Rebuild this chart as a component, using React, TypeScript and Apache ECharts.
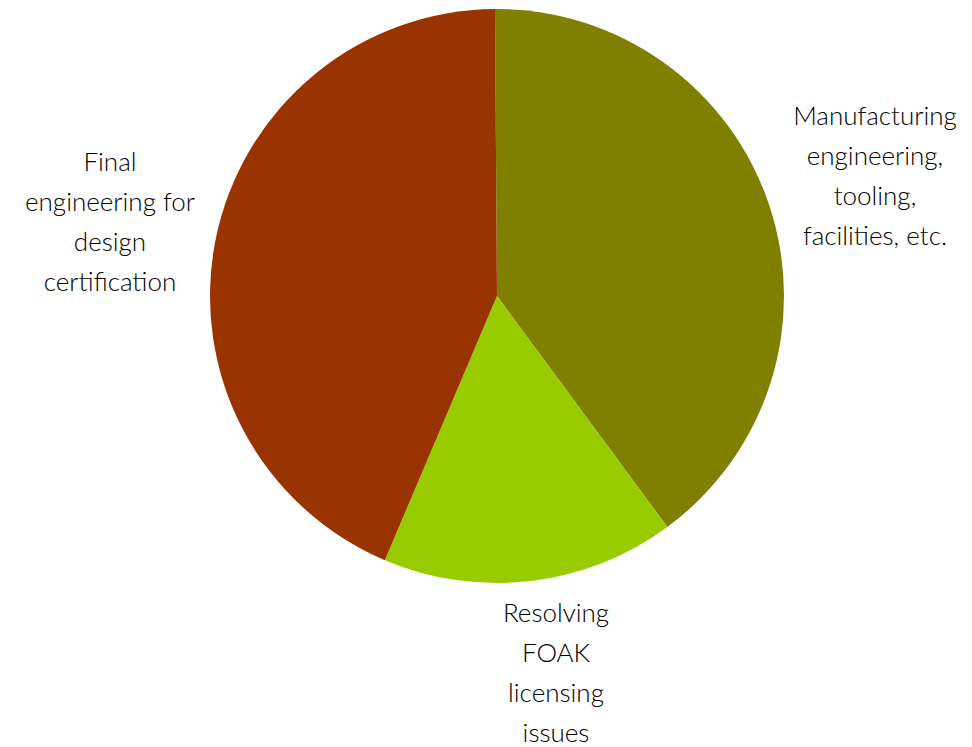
import React, { useEffect, useRef } from "react";
import * as echarts from "echarts";

const categories = [
  "Manufacturing\nengineering,\ntooling,\nfacilities, etc.",
  "Resolving\nFOAK\nlicensing\nissues",
  "Final\nengineering for\ndesign\ncertification",
];
const values = [40, 16.5, 43.5];
const colors = ["#808000", "#99CC00", "#993300"];

export default function App() {
  const ref = useRef<HTMLDivElement>(null);
  useEffect(() => {
    if (!ref.current) return;
    const chart = echarts.init(ref.current, null, { renderer: "svg" });
    const labelPos = [
      { x: 875, y: 175 },
      { x: 556, y: 672 },
      { x: 110, y: 221 },
    ];
    chart.setOption({
      animation: false,
      backgroundColor: "#ffffff",
      series: [
        {
          type: "pie",
          center: [497, 296],
          radius: [0, 287],
          startAngle: 90.4,
          clockwise: true,
          data: categories.map((name, i) => ({
            name,
            value: values[i],
            itemStyle: { color: colors[i] },
          })),
          label: {
            show: true,
            position: "outside",
            formatter: "{b}",
            fontFamily: "Lato",
            fontWeight: 300,
            fontSize: 26,
            lineHeight: 40,
            color: "#000000",
            align: "center",
            overflow: "none",
            width: 300,
          },
          labelLine: { show: false },
          labelLayout: (params: any) => ({
            x: labelPos[params.dataIndex].x,
            y: labelPos[params.dataIndex].y,
            align: "center",
            verticalAlign: "middle",
          }),
          emphasis: { disabled: true },
        },
      ],
    });
    return () => chart.dispose();
  }, []);
  return (
    <div
      ref={ref}
      style={{ position: "fixed", left: 0, top: 0, width: 972, height: 747 }}
    />
  );
}
